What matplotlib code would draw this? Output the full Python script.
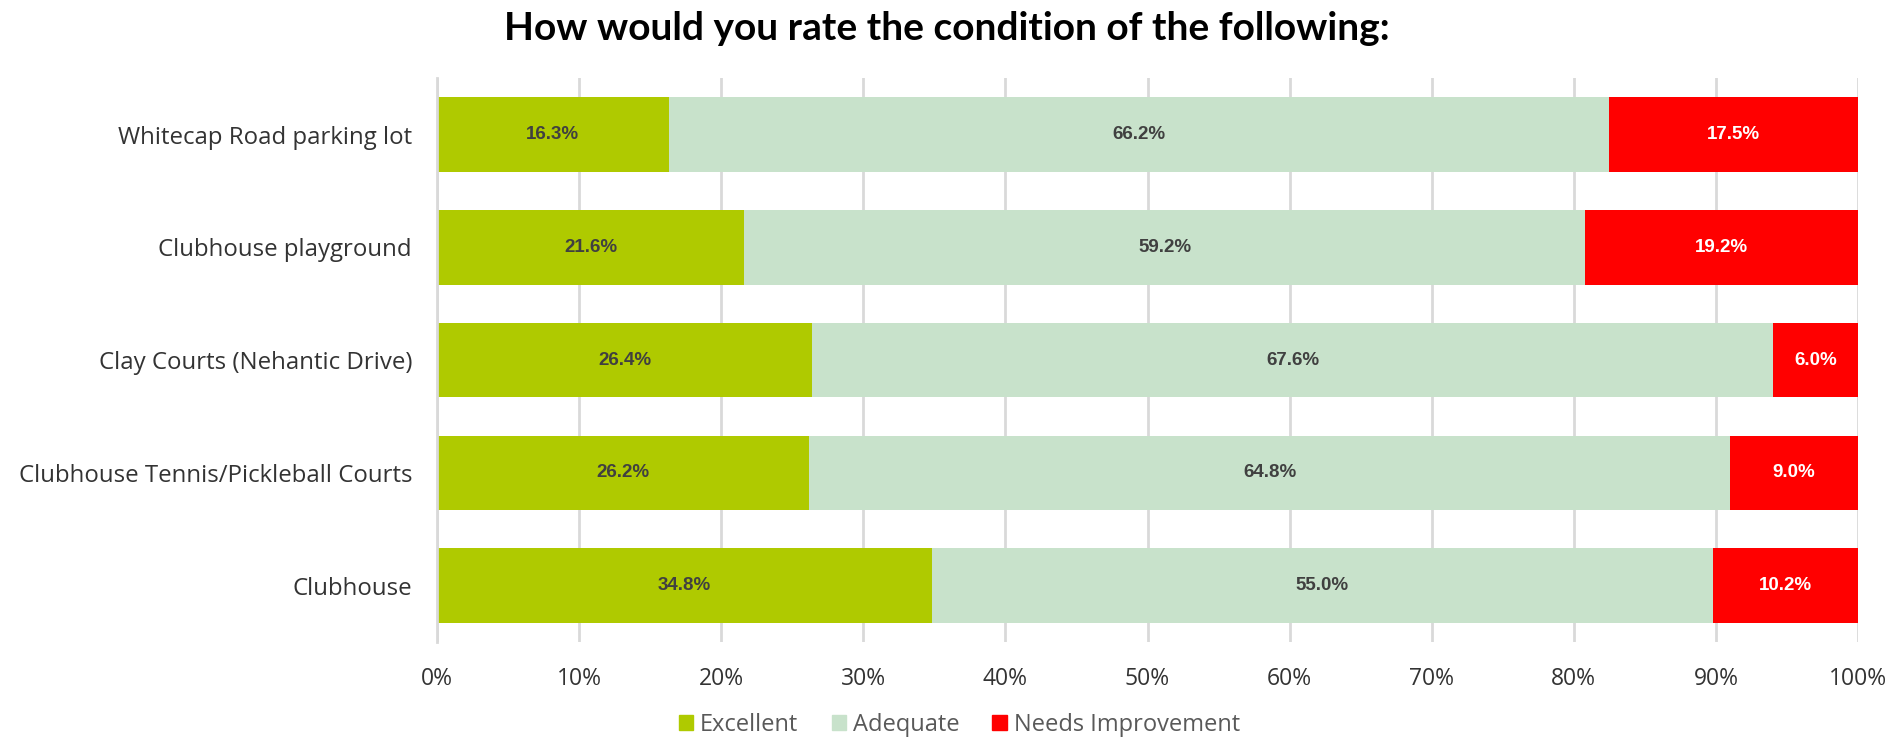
import numpy as np
import matplotlib.pyplot as plt
from matplotlib.patches import Patch
from matplotlib.ticker import PercentFormatter

categories = ['Whitecap Road parking lot', 'Clubhouse playground',
              'Clay Courts (Nehantic Drive)',
              'Clubhouse Tennis/Pickleball Courts', 'Clubhouse']
excellent = [16.3, 21.6, 26.4, 26.2, 34.8]
adequate = [66.2, 59.2, 67.6, 64.8, 55.0]
needs_impr = [17.5, 19.2, 6.0, 9.0, 10.2]
series_names = ['Excellent', 'Adequate', 'Needs Improvement']

colors = ['#afca00', '#c8e2cb', '#ff0000']
label_colors = ['#404040', '#404040', 'white']

fig = plt.figure(figsize=(18.96, 7.38), dpi=100)
ax = fig.add_axes([0.2305, 0.130, 0.7495, 0.764])

y = np.arange(len(categories))
left = np.zeros(len(categories))
for vals, col, lcol in zip([excellent, adequate, needs_impr], colors, label_colors):
    vals = np.array(vals)
    bars = ax.barh(y, vals, left=left, height=0.66, color=col, zorder=2)
    ax.bar_label(bars, labels=[f'{v:.1f}%' for v in vals], label_type='center',
                 color=lcol, fontsize=13.5, fontweight='bold',
                 family='Liberation Sans')
    left += vals

ax.set_xlim(0, 100)
ax.set_ylim(len(categories) - 0.5, -0.5)
ax.set_yticks(y)
ax.set_yticklabels(categories, family='Open Sans', fontsize=17.3, color='#333333')
ax.set_xticks(np.arange(0, 101, 10))
ax.xaxis.set_major_formatter(PercentFormatter(decimals=0))
for lab in ax.get_xticklabels():
    lab.set_family('Open Sans')
    lab.set_fontsize(16.5)
    lab.set_color('#333333')
ax.tick_params(axis='both', length=0)
ax.tick_params(axis='y', pad=18)
ax.tick_params(axis='x', pad=18)
ax.grid(axis='x', color='#d9d9d9', linewidth=2, zorder=0)
for s in ['top', 'right', 'bottom']:
    ax.spines[s].set_visible(False)
ax.spines['left'].set_color('#d9d9d9')
ax.spines['left'].set_linewidth(2)

fig.text(0.4995, 0.962, 'How would you rate the condition of the following:',
         ha='center', va='center', fontsize=28, fontweight='bold',
         family='Lato', color='black')

handles = [Patch(color=c, label=n) for c, n in zip(colors, series_names)]
fig.legend(handles=handles, loc='center', bbox_to_anchor=(0.506, 0.018),
           ncol=3, frameon=False, prop={'family': 'Open Sans', 'size': 17},
           labelcolor='#595959', handlelength=0.6, handleheight=0.6,
           handletextpad=0.3, columnspacing=1.4)

fig.savefig('out.png', dpi=100)
